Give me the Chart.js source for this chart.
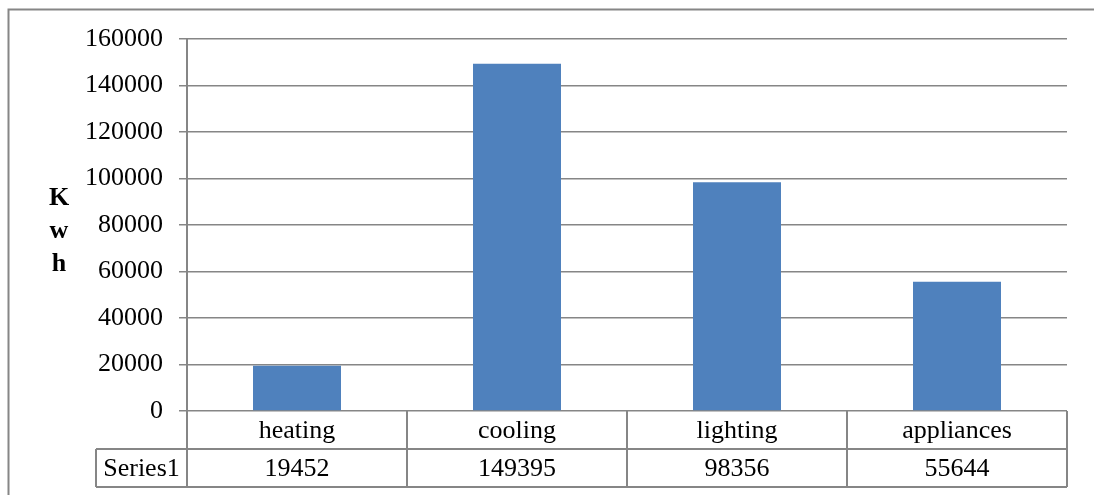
<!DOCTYPE html>
<html>
<head>
<meta charset="utf-8">
<script src="https://cdn.jsdelivr.net/npm/chart.js@4/dist/chart.umd.min.js"></script>
<style>
  html, body { margin: 0; padding: 0; background: #fff; }
  #wrap { position: relative; width: 1094px; height: 495px; }
</style>
</head>
<body>
<div id="wrap"><canvas id="barChart" width="1094" height="495"></canvas></div>
<script>
// 用電分類與數值
const categories = ['heating', 'cooling', 'lighting', 'appliances'];
const seriesName = 'Series1';
const series1 = [19452, 149395, 98356, 55644];
const yTicks = [0, 20000, 40000, 60000, 80000, 100000, 120000, 140000, 160000];
const axisTitle = ['K', 'w', 'h'];

const FONT = '"Liberation Serif", "Times New Roman", serif';
const LINE = '#868686';

// 外框、Y 軸標題與下方資料表
const tablePlugin = {
    id: 'dataTable',
    afterDraw(chart) {
        const ctx = chart.ctx;
        const area = chart.chartArea;
        const x = chart.scales.x;
        const rowH = 38;
        const top = area.bottom;
        const mid = top + rowH;
        const bot = mid + rowH;
        const left = 96;
        const half = (x.getPixelForValue(1) - x.getPixelForValue(0)) / 2;

        ctx.save();
        ctx.strokeStyle = LINE;
        ctx.lineWidth = 2;
        // 外框
        ctx.beginPath();
        ctx.moveTo(8.5, chart.height);
        ctx.lineTo(8.5, 9.5);
        ctx.lineTo(chart.width, 9.5);
        ctx.stroke();

        // 表格線
        ctx.beginPath();
        ctx.moveTo(left, mid); ctx.lineTo(area.right, mid);
        ctx.moveTo(left, bot); ctx.lineTo(area.right, bot);
        ctx.moveTo(left, mid); ctx.lineTo(left, bot);
        ctx.moveTo(area.left, top); ctx.lineTo(area.left, bot);
        categories.forEach((c, i) => {
            const r = x.getPixelForValue(i) + half;
            ctx.moveTo(r, top); ctx.lineTo(r, bot);
        });
        ctx.stroke();

        // 表格文字
        ctx.fillStyle = '#000';
        ctx.font = '26px ' + FONT;
        ctx.textAlign = 'center';
        ctx.textBaseline = 'middle';
        categories.forEach((c, i) => {
            const cx = x.getPixelForValue(i);
            ctx.fillText(c, cx, top + rowH / 2 + 1);
            ctx.fillText(String(series1[i]), cx, mid + rowH / 2 + 1);
        });
        ctx.fillText(seriesName, (left + area.left) / 2, mid + rowH / 2 + 1);

        // Y 軸標題
        ctx.font = 'bold 26px ' + FONT;
        [198, 231, 264].forEach((y, i) => ctx.fillText(axisTitle[i], 59, y));
        ctx.restore();
    }
};

document.addEventListener('DOMContentLoaded', function() {
    const ctx = document.getElementById('barChart').getContext('2d');
    new Chart(ctx, {
        type: 'bar',
        data: {
            labels: categories,
            datasets: [{
                label: seriesName,
                data: series1,
                backgroundColor: '#4F81BD',
                borderWidth: 0,
                categoryPercentage: 1,
                barPercentage: 0.4
            }]
        },
        options: {
            responsive: false,
            animation: false,
            layout: { padding: { left: 0, right: 27, top: 39, bottom: 84 } },
            plugins: {
                legend: { display: false },
                tooltip: { enabled: false }
            },
            scales: {
                x: { display: false },
                y: {
                    min: 0,
                    max: 160000,
                    afterFit(scale) { scale.width = 187; },
                    afterBuildTicks(scale) { scale.ticks = yTicks.map(v => ({ value: v })); },
                    ticks: {
                        color: '#000',
                        padding: 16,
                        font: { family: FONT, size: 26 },
                        callback: v => String(v)
                    },
                    grid: { color: LINE, lineWidth: 1.5, tickLength: 8 },
                    border: { color: LINE, width: 2 }
                }
            }
        },
        plugins: [tablePlugin]
    });
});
</script>
</body>
</html>
